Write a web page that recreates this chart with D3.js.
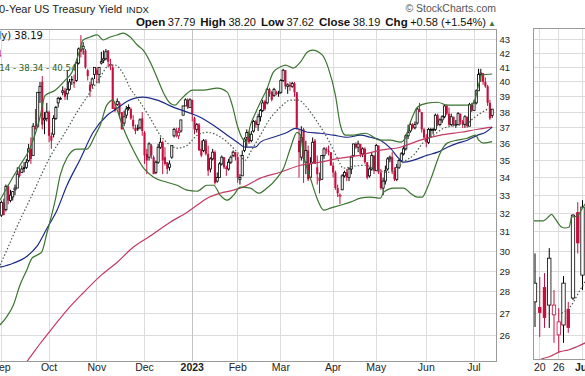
<!DOCTYPE html>
<html>
<head>
<meta charset="utf-8">
<script src="https://cdn.jsdelivr.net/npm/d3@7/dist/d3.min.js"></script>
<style>
  html, body { margin: 0; padding: 0; background: #fff; }
  svg { display: block; font-family: "Liberation Sans", Arial, sans-serif; }
</style>
</head>
<body>
<svg id="chart" width="585" height="376"></svg>
<script>
/* $TNX daily candles Sep 2022 – Jul 2023, BB(20,2), MA(20) dotted, MA(50), MA(200).
   Values are in the index's own units (yield x 10). Lines are read as [dayIndex, value]. */

var months = ['2022-09', '2022-10', '2022-11', '2022-12', '2023-01', '2023-02',
              '2023-03', '2023-04', '2023-05', '2023-06', '2023-07'];
var monthLabels = ['Sep', 'Oct', 'Nov', 'Dec', '2023', 'Feb', 'Mar', 'Apr', 'May', 'Jun', 'Jul'];
var monthDays = [
  [1,2,6,7,8,9,12,13,14,15,16,19,20,21,22,23,26,27,28,29,30],
  [3,4,5,6,7,10,11,12,13,14,17,18,19,20,21,24,25,26,27,28,31],
  [1,2,3,4,7,8,9,10,11,14,15,16,17,18,21,22,23,25,28,29,30],
  [1,2,5,6,7,8,9,12,13,14,15,16,19,20,21,22,23,27,28,29,30],
  [3,4,5,6,9,10,11,12,13,17,18,19,20,23,24,25,26,27,30,31],
  [1,2,3,6,7,8,9,10,13,14,15,16,17,21,22,23,24,27,28],
  [1,2,3,6,7,8,9,10,13,14,15,16,17,20,21,22,23,24,27,28,29,30,31],
  [3,4,5,6,10,11,12,13,14,17,18,19,20,21,24,25,26,27,28],
  [1,2,3,4,5,8,9,10,11,12,15,16,17,18,19,22,23,24,25,26,30,31],
  [1,2,5,6,7,8,9,12,13,14,15,16,20,21,22,23,26,27,28,29,30],
  [3,5,6,7,10,11,12,13,14]
];

var open = [
  31.9,32.6,32.2,33.5,32.7,32.9,33.3,33.4,34.4,34.3,34.6,34.6,35.0,35.7,35.3,37.1,37.1,39.3,40.0,37.5,37.6,
  38.0,36.5,36.6,37.6,38.6,38.9,39.3,39.4,39.2,39.5,40.2,40.0,40.1,41.3,42.3,42.3,42.2,40.8,39.8,39.8,40.5,
  40.8,40.5,41.3,41.5,41.6,42.2,41.2,41.0,38.3,38.5,38.6,38.0,37.3,37.8,38.3,38.2,37.5,37.0,37.0,37.0,37.6,
  36.7,35.4,35.2,35.9,35.2,34.3,34.9,35.8,36.1,35.2,34.9,34.6,35.2,36.5,36.8,36.5,36.8,37.8,38.4,38.8,38.3,
  38.8,37.6,36.9,37.2,35.7,35.6,36.2,35.4,34.5,35.1,35.5,33.8,34.0,34.8,35.2,34.6,34.5,34.9,35.3,35.5,
  35.2,33.9,34.1,35.6,36.4,36.7,36.2,36.8,37.4,37.2,37.7,38.1,38.7,38.6,39.5,39.3,39.1,39.3,39.3,
  39.3,40.1,40.8,39.7,39.8,39.7,39.9,39.3,36.2,35.2,36.9,34.9,35.6,34.0,34.9,36.2,34.6,34.0,33.9,35.3,35.7,35.6,35.5,
  34.7,34.3,33.4,33.0,33.3,34.1,34.3,34.0,34.5,35.3,36.0,35.8,36.0,35.4,35.7,34.9,34.1,34.5,35.3,
  34.4,35.9,34.3,33.4,33.8,34.5,35.1,35.2,34.4,33.9,34.6,35.0,35.4,35.7,36.5,36.8,37.2,37.0,37.3,38.2,38.0,36.9,
  36.4,36.1,36.9,36.9,36.9,37.8,37.2,37.5,37.7,38.4,37.9,37.2,37.7,37.2,37.2,37.9,37.4,37.2,37.7,37.1,38.5,
  38.1,38.6,39.4,40.5,40.6,40.0,39.7,38.6,37.79
];
var high = [
  32.7,32.8,33.6,33.6,33.3,33.2,33.6,34.6,34.6,34.7,34.9,35.1,36.0,36.4,37.3,38.2,39.3,40.0,40.4,38.0,38.6,
  38.1,36.7,37.8,38.4,39.0,39.0,39.7,39.6,40.8,40.2,40.4,40.5,41.4,42.4,43.3,42.8,42.3,40.9,40.0,40.3,41.0,
  41.0,41.0,42.1,42.2,42.3,42.2,41.6,41.2,38.6,38.9,38.7,38.0,38.1,38.4,38.5,38.3,37.8,37.2,37.2,37.6,38.0,
  36.8,35.7,36.1,36.0,35.3,35.0,36.0,36.4,36.2,35.8,34.9,35.0,35.9,37.0,37.0,37.0,37.5,38.4,38.9,38.9,38.9,
  38.8,37.7,37.3,37.3,36.2,36.3,36.3,35.9,35.2,35.7,35.6,34.3,34.9,35.3,35.2,34.7,35.1,35.3,35.6,35.5,
  35.4,34.2,35.6,36.4,36.9,36.8,36.8,37.5,37.5,37.9,38.2,38.8,38.8,39.6,39.6,39.4,39.6,39.4,39.4,
  40.2,40.9,40.8,39.9,40.0,40.0,40.0,39.3,36.9,37.1,37.0,36.2,35.9,35.2,36.4,36.3,35.3,34.3,35.3,35.8,35.8,35.9,35.5,
  34.9,34.4,33.6,33.1,34.2,34.4,34.5,34.6,35.3,36.0,36.1,36.2,36.0,35.8,35.8,34.9,34.6,35.5,35.3,
  36.0,35.9,34.5,34.0,34.7,35.2,35.3,35.5,34.6,34.8,35.1,35.5,35.9,36.6,37.2,37.3,37.3,37.4,38.3,38.6,38.0,37.0,
  36.6,37.0,37.0,37.0,37.9,37.9,37.6,37.8,38.5,38.5,38.3,37.9,37.7,37.5,38.0,37.9,37.5,37.8,37.7,38.6,38.6,
  38.8,39.5,40.9,40.9,40.6,40.3,39.8,38.8,38.20
];
var low = [
  31.8,31.9,32.1,32.5,32.6,32.7,33.0,33.4,34.0,34.3,34.3,34.5,34.9,34.8,35.3,36.9,37.0,38.6,36.9,36.6,37.4,
  36.1,35.7,36.4,37.5,38.3,38.8,39.1,38.8,38.8,39.4,39.8,39.6,40.0,41.2,41.7,41.9,40.9,40.1,39.0,39.6,40.2,
  39.9,39.9,41.2,41.3,41.5,41.0,40.8,38.2,38.0,38.4,37.6,36.9,37.1,37.6,38.1,37.5,36.9,36.6,36.8,36.9,36.5,
  34.8,34.2,35.0,35.1,34.2,34.2,34.8,35.7,34.2,34.7,34.2,34.4,35.1,36.4,36.4,36.3,36.7,37.8,38.4,38.2,38.3,
  37.4,36.6,36.7,35.6,35.2,35.5,35.3,34.1,34.3,35.0,33.6,33.7,34.0,34.7,34.5,34.1,34.4,34.8,35.2,35.0,
  33.7,33.6,34.1,35.5,35.8,36.0,36.1,36.7,37.0,36.8,37.4,38.0,38.1,38.5,39.0,38.7,39.0,39.1,39.0,
  39.2,40.0,39.5,39.2,39.4,39.6,39.0,36.9,34.0,35.0,33.7,34.2,33.8,33.9,34.9,34.8,33.6,33.1,33.9,35.1,35.4,35.3,34.7,
  34.0,33.3,32.9,32.5,33.3,34.0,33.8,33.8,34.2,35.2,35.7,35.5,35.2,35.2,34.8,33.9,34.0,34.4,34.2,
  34.4,34.2,33.3,33.0,33.6,34.4,34.9,34.2,33.8,33.8,34.5,34.9,35.3,35.6,36.3,36.7,36.9,36.9,37.2,38.0,36.7,36.3,
  35.8,36.0,36.4,36.6,36.8,37.1,37.1,37.3,37.6,37.8,37.1,37.1,37.1,37.0,37.2,37.2,37.0,37.0,37.0,37.1,38.0,
  38.1,38.5,39.4,40.0,39.8,39.6,38.4,37.5,37.62
];
var close = [
  32.6,31.9,33.5,32.7,33.0,33.2,33.4,34.2,34.1,34.5,34.5,34.9,35.7,35.1,37.1,36.9,39.3,39.7,37.2,37.6,38.0,
  36.5,36.2,37.6,38.3,38.9,38.9,39.4,39.0,39.5,40.0,40.1,39.9,41.3,42.3,42.1,42.5,41.0,40.4,39.4,40.2,41.0,
  40.5,41.0,41.4,41.6,42.1,41.4,41.2,38.2,38.1,38.7,37.9,36.9,37.7,38.2,38.3,37.6,37.1,36.8,36.9,37.5,36.8,
  35.3,35.0,36.0,35.3,34.2,34.9,35.8,36.1,35.0,34.8,34.5,34.8,35.9,36.9,36.8,36.7,37.5,38.4,38.8,38.3,38.8,
  37.9,36.9,37.2,35.6,35.3,36.2,35.4,34.4,35.1,35.5,33.7,34.0,34.8,35.2,34.6,34.5,34.9,35.2,35.5,35.2,
  34.0,34.0,35.3,36.3,36.7,36.1,36.6,37.4,37.2,37.7,38.1,38.6,38.2,39.5,39.2,38.8,39.5,39.2,39.2,
  40.1,40.8,39.7,39.8,39.7,39.9,39.3,37.0,35.5,36.4,35.1,35.6,33.9,34.8,36.1,34.8,34.2,33.8,35.3,35.7,35.6,35.5,34.7,
  34.3,33.4,33.1,33.0,34.1,34.3,34.0,34.5,35.2,36.0,35.8,36.0,35.4,35.7,34.9,34.0,34.5,35.3,34.4,
  35.9,34.3,33.4,33.8,34.4,35.1,35.2,34.4,33.9,34.6,35.0,35.4,35.7,36.5,36.7,37.2,37.0,37.2,38.2,38.0,36.9,36.4,
  36.1,36.9,36.9,36.9,37.8,37.2,37.5,37.7,38.4,37.9,37.2,37.7,37.2,37.2,37.9,37.4,37.2,37.7,37.1,38.5,38.1,
  38.6,39.4,40.5,40.6,40.0,39.7,38.6,37.6,38.19
];

var bbUpper = [
  [-0.6,32.72],[3.8,33.73],[8.2,34.72],[12.6,35.74],[17.0,37.67],[19.2,39.08],[23.7,39.44],[28.1,40.12],
  [31.1,40.67],[33.8,41.86],[36.0,42.95],[39.1,43.17],[42.2,43.32],[44.8,42.95],[47.9,43.17],[51.0,43.32],
  [53.6,43.46],[56.7,43.17],[59.8,42.59],[62.4,42.22],[65.5,41.37],[68.6,40.25],[71.2,39.31],[74.3,38.58],
  [76.5,38.45],[78.7,38.78],[81.8,39.24],[84.0,39.44],[88.9,39.44],[95.0,39.58],[99.4,39.31],[101.6,38.45],
  [103.8,37.16],[106.0,36.35],[107.8,36.11],[109.6,37.16],[111.8,37.93],[114.0,38.64],[117.0,39.58],
  [119.7,40.67],[122.8,41.02],[125.0,41.16],[128.5,40.95],[131.6,41.37],[134.7,42.08],[136.9,42.22],
  [141.3,41.86],[143.9,40.95],[147.0,39.11],[149.2,37.16],[151.4,36.54],[154.9,36.54],[160.2,36.66],
  [166.8,36.23],[171.2,36.23],[175.6,36.11],[177.8,36.35],[180.0,37.35],[183.1,38.32],[187.5,38.58],
  [192.0,38.64],[196.3,38.45],[205.1,38.45],[207.8,38.58],[210.0,39.78],[211.3,40.46],[216.0,40.54]
];
var bbLower = [
  [-0.6,26.47],[2.4,26.85],[5.3,27.38],[8.2,28.33],[11.2,29.06],[13.4,29.64],[15.6,29.80],[17.8,29.97],
  [20.0,30.92],[23.7,32.72],[25.9,34.14],[28.8,35.14],[33.2,35.68],[37.6,35.68],[41.3,36.54],[43.5,37.16],
  [46.4,38.45],[49.2,38.78],[51.0,38.12],[53.7,36.97],[58.1,35.62],[62.6,34.55],[67.0,34.02],[72.9,33.73],
  [77.3,33.56],[81.7,33.28],[86.1,33.22],[90.5,33.56],[93.4,33.56],[96.3,33.00],[99.3,32.72],[102.2,33.00],
  [105.1,33.45],[109.6,33.40],[113.2,33.11],[116.9,33.40],[121.3,33.97],[124.2,34.55],[127.2,35.74],
  [130.1,36.72],[131.6,36.54],[133.0,35.32],[136.0,33.97],[138.9,32.83],[141.9,32.17],[144.8,32.28],
  [149.2,32.44],[153.6,32.61],[158.0,32.83],[162.4,32.89],[166.8,32.83],[168.3,33.17],[172.7,33.40],
  [177.1,33.40],[180.0,33.11],[183.0,32.89],[185.2,32.89],[187.4,33.40],[189.6,34.14],[193.3,35.50],
  [196.2,36.05],[200.6,36.23],[205.0,36.35],[208.7,36.54],[210.1,36.23],[212.3,36.05],[216.0,36.14]
];
var ma20 = [
  [-0.6,29.30],[2.4,30.06],[6.8,31.26],[14.1,33.17],[21.4,35.20],[28.1,36.72],[33.8,38.12],[39.1,39.31],
  [43.5,40.32],[47.0,41.09],[50.1,41.16],[53.2,40.67],[56.7,39.58],[61.1,38.64],[65.5,37.61],[69.9,36.54],
  [74.3,35.92],[77.4,35.74],[81.8,35.92],[86.2,36.54],[90.6,36.72],[95.0,36.54],[99.4,36.11],[103.8,35.50],
  [107.4,35.02],[109.6,35.50],[114.0,36.54],[118.4,37.61],[122.8,38.32],[127.2,38.78],[130.7,38.78],
  [134.7,38.25],[139.1,37.35],[143.5,36.35],[147.9,35.14],[150.5,34.55],[155.0,34.66],[160.2,34.72],
  [163.7,34.55],[169.9,34.31],[174.3,34.55],[176.9,34.90],[181.4,35.32],[185.8,36.11],[190.2,36.54],
  [194.6,36.97],[200.8,37.16],[205.1,37.29],[207.8,37.61],[210.9,37.93],[216.0,38.34]
];
var ma50 = [
  [-0.6,29.20],[5.2,29.40],[11.3,29.75],[15.7,30.26],[20.1,31.20],[24.5,32.17],[28.9,33.56],[34.7,35.08],
  [40.4,36.72],[46.6,37.80],[51.0,38.25],[55.4,38.71],[62.4,38.98],[68.6,38.78],[75.6,38.32],[81.8,38.00],
  [87.5,37.67],[93.3,37.16],[99.4,36.54],[103.8,36.11],[107.4,35.80],[111.8,35.80],[114.0,36.11],
  [119.7,36.41],[125.9,36.72],[129.4,36.97],[134.7,36.72],[140.4,36.66],[146.1,36.54],[152.3,36.41],
  [158.0,36.54],[162.4,36.41],[166.8,36.23],[171.2,35.74],[174.8,35.14],[176.9,34.90],[181.4,35.02],
  [187.5,35.32],[192.0,35.50],[196.3,35.80],[200.8,36.05],[205.1,36.23],[209.6,36.54],[213.1,36.72],
  [216.0,37.04]
];
var ma200 = [
  [8.0,24.50],[11.8,24.95],[17.0,25.64],[22.8,26.38],[28.9,27.15],[36.0,27.95],[43.5,28.76],[51.0,29.45],
  [58.0,30.21],[65.5,30.79],[74.3,31.52],[81.8,32.06],[86.2,32.45],[90.6,32.83],[96.3,33.11],[102.1,33.28],
  [107.4,33.51],[114.0,33.97],[122.8,34.31],[131.6,34.72],[140.4,34.90],[149.2,35.14],[158.0,35.32],
  [166.8,35.62],[175.6,35.80],[184.4,36.23],[193.3,36.54],[202.1,36.72],[209.6,36.91],[216.0,37.04]
];

var yTickValues = [26, 27, 28, 29, 30, 31, 32, 33, 34, 35, 36, 37, 38, 39, 40, 41, 42, 43];

/* neighbouring chart, cut off at the right edge */
var insetOpen  = [27.53, 27.29, 28.23, 27.38, 26.93, 26.03, 26.47, 27.20, 27.71, 32.06, 28.81];
var insetHigh  = [29.89, 28.72, 28.91, 30.16, 28.09, 27.24, 28.76, 27.53, 31.95, 32.61, 32.72];
var insetLow   = [26.38, 25.94, 26.34, 26.34, 25.68, 25.24, 25.68, 26.12, 27.62, 29.89, 28.09];
var insetClose = [28.42, 27.02, 26.79, 29.65, 27.38, 26.61, 28.42, 26.34, 31.90, 30.41, 32.34];
var insetBand  = [[-0.4,31.59],[1.75,31.59],[2.8,31.80],[3.5,31.94],[4.2,31.72],[5.6,31.26],[6.3,31.21],
                  [7.2,31.26],[7.7,31.80],[8.8,31.84],[10.2,32.37],[10.8,32.6]];
var insetMa20  = [[5.6,27.00],[7.4,27.30],[9.5,28.09],[10.8,28.6]];
var insetMa200 = [[0,24.80],[1.05,24.95],[3.16,25.09],[5.26,25.30],[7.0,25.37],[8.8,25.51],[10.8,25.70]];
var insetTickLabels = ['20', '26', 'Jul'];
var insetTickIdx = [1, 5, 10];

(function () {
  'use strict';

  var RED = '#c4103f', BLACK = '#000', GRID = '#dcdcdc', FRAME = '#9a9a9a';
  var svg = d3.select('#chart');
  var plot = { left: 0, right: 496.5, top: 29, bottom: 361 };

  var x = d3.scaleLinear().domain([-0.6, 217.9]).range([plot.left, plot.right]);
  var y = d3.scaleLog().domain([24.9, 43.76]).range([plot.bottom, plot.top]);

  var monthStart = [], n = 0;
  monthDays.forEach(function (d) { monthStart.push(n); n += d.length; });

  var defs = svg.append('defs');
  defs.append('clipPath').attr('id', 'clipMain').append('rect')
    .attr('x', plot.left).attr('y', plot.top)
    .attr('width', plot.right - plot.left).attr('height', plot.bottom - plot.top);

  /* grid */
  var grid = svg.append('g').attr('shape-rendering', 'crispEdges');
  grid.selectAll('line.h').data(yTickValues).enter().append('line')
    .attr('x1', plot.left).attr('x2', plot.right)
    .attr('y1', function (d) { return y(d); }).attr('y2', function (d) { return y(d); })
    .attr('stroke', GRID);
  grid.selectAll('line.v').data(monthStart).enter().append('line')
    .attr('x1', function (d) { return x(d); }).attr('x2', function (d) { return x(d); })
    .attr('y1', plot.top).attr('y2', plot.bottom)
    .attr('stroke', function (d, k) { return monthLabels[k] === '2023' ? '#c4c4c4' : GRID; });

  /* candles */
  function drawCandles(g, xs, O, Hi, Lo, C, bw) {
    C.forEach(function (c, i) {
      var o = O[i], prev = i ? C[i - 1] : o;
      var col = c < prev ? RED : BLACK;
      var hollow = c >= o;
      var cx = xs(i);
      g.append('line')
        .attr('x1', cx).attr('x2', cx).attr('y1', y(Hi[i])).attr('y2', y(Lo[i]))
        .attr('stroke', col).attr('stroke-width', 1);
      var top = y(Math.max(o, c)), bot = y(Math.min(o, c));
      g.append('rect')
        .attr('x', cx - bw / 2).attr('y', top)
        .attr('width', bw).attr('height', Math.max(bot - top, 0.9))
        .attr('fill', hollow ? '#fff' : col)
        .attr('stroke', hollow ? col : 'none').attr('stroke-width', hollow ? 0.8 : 0);
    });
  }

  var main = svg.append('g').attr('clip-path', 'url(#clipMain)');
  drawCandles(main, x, open, high, low, close, 2.1);

  /* overlays */
  var line = d3.line()
    .x(function (d) { return x(d[0]); }).y(function (d) { return y(d[1]); })
    .curve(d3.curveMonotoneX);
  main.append('path').attr('d', line(ma200)).attr('fill', 'none')
    .attr('stroke', '#c23a62').attr('stroke-width', 1.2);
  main.append('path').attr('d', line(ma50)).attr('fill', 'none')
    .attr('stroke', '#1c2a86').attr('stroke-width', 1.2);
  main.append('path').attr('d', line(ma20)).attr('fill', 'none')
    .attr('stroke', '#4b5c4b').attr('stroke-width', 1.2).attr('stroke-dasharray', '1.5,2');
  [bbUpper, bbLower].forEach(function (b) {
    main.append('path').attr('d', line(b)).attr('fill', 'none')
      .attr('stroke', '#3b7431').attr('stroke-width', 1.2);
  });

  /* frame */
  svg.append('rect')
    .attr('x', plot.left - 2).attr('y', plot.top)
    .attr('width', plot.right - plot.left + 2).attr('height', plot.bottom - plot.top)
    .attr('fill', 'none').attr('stroke', FRAME).attr('shape-rendering', 'crispEdges');

  /* axes labels */
  svg.append('g').selectAll('text').data(yTickValues).enter().append('text')
    .attr('x', plot.right + 3).attr('y', function (d) { return y(d) + 3.5; })
    .style('font-size', '9.5px').style('fill', '#222').text(function (d) { return d; });

  svg.append('g').selectAll('text').data(monthStart).enter().append('text')
    .attr('x', function (d) { return x(d); }).attr('y', plot.bottom + 10)
    .attr('text-anchor', 'middle')
    .style('font-size', '10.5px').style('fill', '#222')
    .style('font-weight', function (d, k) { return monthLabels[k] === '2023' ? 'bold' : 'normal'; })
    .text(function (d, k) { return monthLabels[k]; });

  /* header */
  var title = svg.append('text').attr('x', -7).attr('y', 13)
    .style('font-size', '11px').style('fill', '#222');
  title.append('tspan').text('10-Year US Treasury Yield');
  title.append('tspan').attr('dx', 4).style('font-size', '9.5px').text('INDX');

  svg.append('text').attr('x', 496).attr('y', 12).attr('text-anchor', 'end')
    .style('font-size', '10.5px').style('fill', '#555').text('\u00A9 StockCharts.com');

  var ohlc = svg.append('text').attr('x', 486).attr('y', 26).attr('text-anchor', 'end')
    .style('font-size', '11px').style('fill', '#111');
  [['Open', '37.79'], ['High', '38.20'], ['Low', '37.62'], ['Close', '38.19'], ['Chg', '+0.58 (+1.54%)']]
    .forEach(function (p, k) {
      ohlc.append('tspan').attr('dx', k ? 5 : 0).style('font-weight', 'bold').style('font-size', '11.5px').text(p[0]);
      ohlc.append('tspan').attr('dx', 2.5).text(p[1]);
    });
  svg.append('text').attr('x', 488).attr('y', 25.5)
    .style('font-size', '8px').style('fill', '#3c7a3c').text('\u25B2');

  /* legend inside the plot */
  var legendFont = '"DejaVu Sans", Verdana, sans-serif';
  svg.append('text').attr('x', 43).attr('y', 39).attr('text-anchor', 'end')
    .style('font-family', legendFont).style('font-size', '10px')
    .style('fill', '#111').text('$TNX (Daily) 38.19');
  svg.append('text').attr('x', 2).attr('y', 57).attr('text-anchor', 'end')
    .style('font-family', legendFont).style('font-size', '9px')
    .style('fill', RED).text('MA(200) 37.04');
  svg.append('text').attr('x', 76.5).attr('y', 71).attr('text-anchor', 'end')
    .style('font-family', legendFont).style('font-size', '8.6px')
    .style('fill', '#2b5e22').text('BB(20,2.0) 36.14 - 38.34 - 40.54');

  /* neighbouring chart panel */
  var inset = { left: 533.5, right: 590, top: 28.5, bottom: 359 };
  var xi = d3.scaleLinear().domain([0, 10]).range([535, 582.5]);
  defs.append('clipPath').attr('id', 'clipInset').append('rect')
    .attr('x', inset.left).attr('y', inset.top)
    .attr('width', inset.right - inset.left).attr('height', inset.bottom - inset.top);

  var ig = svg.append('g').attr('shape-rendering', 'crispEdges');
  ig.selectAll('line.h').data(yTickValues).enter().append('line')
    .attr('x1', inset.left).attr('x2', inset.right)
    .attr('y1', function (d) { return y(d); }).attr('y2', function (d) { return y(d); })
    .attr('stroke', GRID);
  ig.selectAll('line.v').data(insetTickIdx).enter().append('line')
    .attr('x1', function (d) { return xi(d); }).attr('x2', function (d) { return xi(d); })
    .attr('y1', inset.top).attr('y2', inset.bottom).attr('stroke', GRID);

  var insetG = svg.append('g').attr('clip-path', 'url(#clipInset)');
  drawCandles(insetG, xi, insetOpen, insetHigh, insetLow, insetClose, 3.4);
  var iline = d3.line()
    .x(function (d) { return xi(d[0]); }).y(function (d) { return y(d[1]); })
    .curve(d3.curveMonotoneX);
  insetG.append('path').attr('d', iline(insetMa200)).attr('fill', 'none')
    .attr('stroke', '#c23a62').attr('stroke-width', 1.2);
  insetG.append('path').attr('d', iline(insetMa20)).attr('fill', 'none')
    .attr('stroke', '#4b5c4b').attr('stroke-width', 1.2).attr('stroke-dasharray', '1.5,2');
  insetG.append('path').attr('d', iline(insetBand)).attr('fill', 'none')
    .attr('stroke', '#3b7431').attr('stroke-width', 1.2);

  svg.append('rect')
    .attr('x', inset.left).attr('y', inset.top)
    .attr('width', inset.right - inset.left).attr('height', inset.bottom - inset.top)
    .attr('fill', 'none').attr('stroke', FRAME).attr('shape-rendering', 'crispEdges');

  svg.append('g').selectAll('text').data(insetTickIdx).enter().append('text')
    .attr('x', function (d) { return xi(d); }).attr('y', inset.bottom + 12)
    .attr('text-anchor', 'middle')
    .style('font-size', '10.5px').style('fill', '#222')
    .style('font-weight', function (d, k) { return insetTickLabels[k] === 'Jul' ? 'bold' : 'normal'; })
    .text(function (d, k) { return insetTickLabels[k]; });
})();
</script>
</body>
</html>
